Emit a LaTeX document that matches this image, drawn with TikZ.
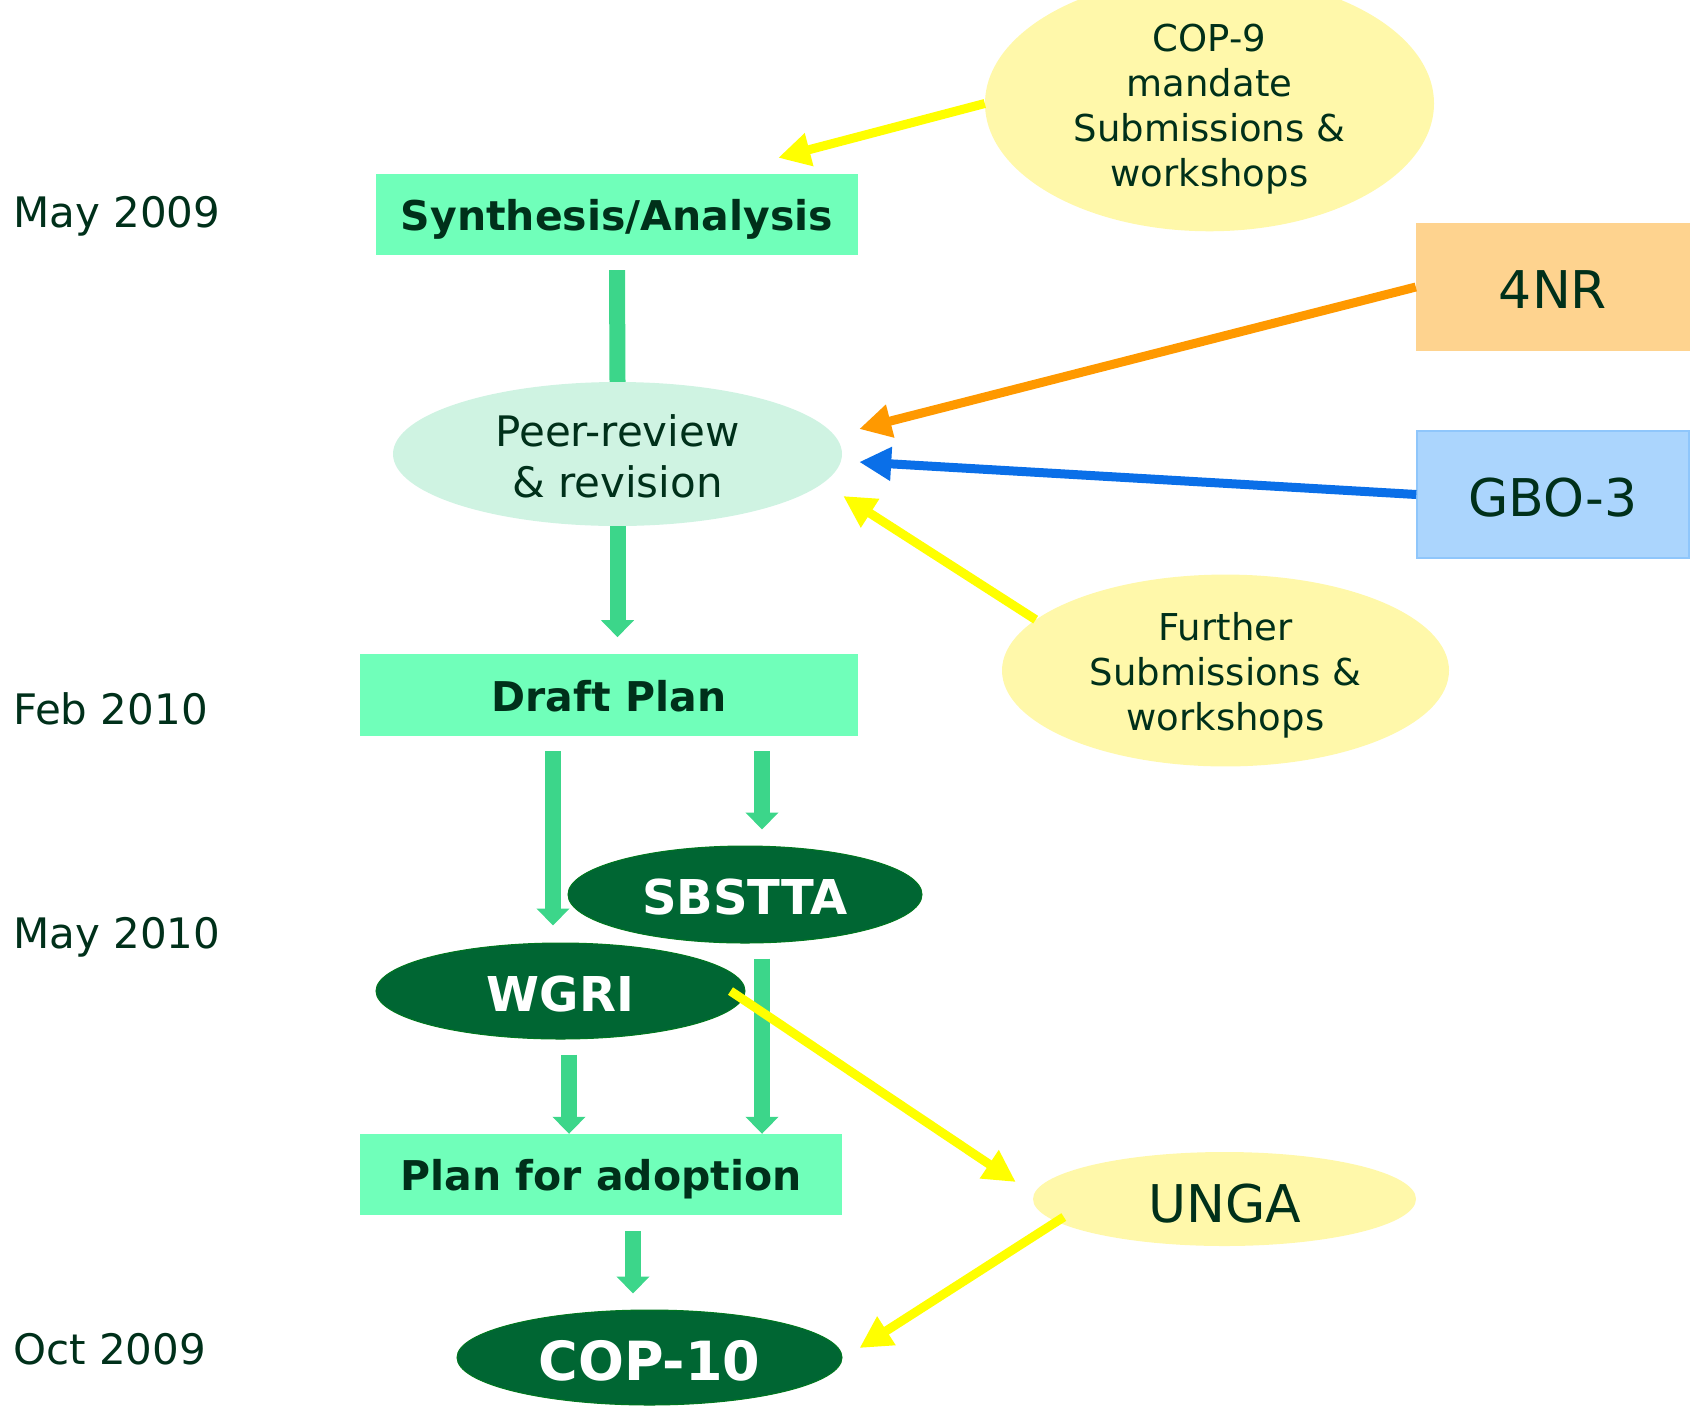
\documentclass[tikz,border=0pt]{standalone}
\usepackage{fontspec}
\setmainfont{DejaVu Sans}
\usetikzlibrary{shapes.geometric,arrows.meta,calc}
\definecolor{txt}{HTML}{00301A}
\definecolor{mint}{HTML}{70FFBA}
\definecolor{garrow}{HTML}{3CD68A}
\definecolor{peerfill}{HTML}{CFF3E2}
\definecolor{dkgreen}{HTML}{006633}
\definecolor{dkborder}{HTML}{00771F}
\definecolor{ltyellow}{HTML}{FFF8AA}
\definecolor{yarrow}{HTML}{FFFF00}
\definecolor{orfill}{HTML}{FED38F}
\definecolor{orarrow}{HTML}{FF9900}
\definecolor{blfill}{HTML}{ABD5FD}
\definecolor{blborder}{HTML}{8FC6FB}
\definecolor{blarrow}{HTML}{0A6FE8}
\tikzset{
  datelbl/.style={anchor=base west, text=txt, font=\fontsize{42}{50}\selectfont, inner sep=0},
  stagebox/.style={rectangle, fill=mint, text=txt, inner sep=0, text height=42pt, text depth=10pt, font=\bfseries\fontsize{41}{49}\selectfont},
  darkell/.style={ellipse, fill=dkgreen, draw=dkborder, line width=1pt, text=white, inner sep=0, text height=40pt, text depth=0pt, font=\bfseries\fontsize{48}{56}\selectfont},
  yellell/.style={ellipse, fill=ltyellow, text=txt, inner sep=0, align=center, font=\fontsize{37}{45}\selectfont},
  srcbox/.style={rectangle, text=txt, inner sep=0, text height=43pt, text depth=0pt, font=\fontsize{52}{60}\selectfont},
  garr/.style={draw=garrow, line width=16pt, -{Triangle[width=32pt,length=17pt]}},
  gline/.style={draw=garrow, line width=16pt},
  carr/.style={line width=9pt, -{Triangle[width=32pt,length=32pt]}}
}
\begin{document}
\begin{tikzpicture}[x=1pt,y=-1pt]
\useasboundingbox (0,0) rectangle (1694,1406);
% date labels
\node[datelbl] (d1) at (13,227) {May 2009};
\node[datelbl] (d2) at (13,724) {Feb 2010};
\node[datelbl] (d3) at (13,948) {May 2010};
\node[datelbl] (d4) at (13,1364) {Oct 2009};
% main column
\node[stagebox, minimum width=482pt, minimum height=81pt] (syn) at (617,214.5) {Synthesis/Analysis};
\node[ellipse, fill=peerfill, text=txt, inner sep=0, minimum width=449pt, minimum height=144pt, align=center, font=\fontsize{42}{51}\selectfont] (peer) at (617.5,454) {\rule{0pt}{36pt}Peer-review\\\& revision};
\node[stagebox, minimum width=498pt, minimum height=82pt] (draft) at (609,695) {Draft Plan};
\node[darkell, minimum width=354pt, minimum height=97pt] (sbstta) at (745,894.5) {SBSTTA};
\node[darkell, minimum width=369pt, minimum height=96pt] (wgri) at (560.5,991) {WGRI};
\node[stagebox, minimum width=482pt, minimum height=81pt] (plan) at (601,1174.5) {Plan for adoption};
\node[darkell, minimum width=385pt, minimum height=95pt, text height=46pt, font=\bfseries\fontsize{54}{60}\selectfont] (cop10) at (649.5,1357.5) {COP-10};
% inputs
\node[yellell, minimum width=449pt, minimum height=203pt] (cop9) at (1209.5,103.5) {\rule{0pt}{38pt}COP-9\\mandate\\Submissions \&\\workshops};
\node[srcbox, fill=orfill, minimum width=274pt, minimum height=128pt] (nr4) at (1553,287) {4NR};
\node[srcbox, fill=blfill, draw=blborder, line width=1.5pt, minimum width=272pt, minimum height=127pt] (gbo) at (1553,494.5) {GBO-3};
\node[yellell, minimum width=447pt, minimum height=191pt] (further) at (1225.5,670.5) {\rule{0pt}{38pt}Further\\Submissions \&\\workshops};
\node[yellell, minimum width=383pt, minimum height=94pt, text height=46pt, text depth=0pt, font=\fontsize{52}{60}\selectfont] (unga) at (1224.5,1199) {UNGA};
% green flow
\draw[gline] ($(syn.south)+(0,15)$) -- (peer.north);
\draw[garr] (peer.south) -- ($(peer.south)+(0,111)$);
\draw[garr] ($(draft.south)+(-56,15)$) -- ($(wgri.north)+(-7.5,-17)$);
\draw[garr] ($(draft.south)+(153,15)$) -- ($(sbstta.north)+(17,-16)$);
\draw[garr] ($(sbstta.south)+(17,15)$) -- ($(plan.north)+(161,0)$);
\draw[garr] ($(wgri.south)+(8.5,15)$) -- ($(plan.north)+(-32,0)$);
\draw[garr] ($(plan.south)+(32,16)$) -- ($(cop10.north)+(-16.5,-16)$);
% coloured inputs
\draw[carr, draw=yarrow, fill=yarrow] (cop9.west) -- ($(syn.north east)+(-80,-16)$);
\draw[carr, draw=orarrow, fill=orarrow] (nr4.west) -- ($(peer.east)+(17,-25)$);
\draw[carr, draw=blarrow, fill=blarrow] (gbo.west) -- ($(peer.east)+(17,8)$);
\draw[carr, draw=yarrow, fill=yarrow] (further.165) -- ($(peer.east)+(1,42)$);
\draw[carr, draw=yarrow, fill=yarrow] ($(wgri.east)+(-15,0)$) -- ($(unga.west)+(-17,-17)$);
\draw[carr, draw=yarrow, fill=yarrow] ($(unga.west)+(31,18)$) -- ($(cop10.east)+(17,-9.5)$);
\end{tikzpicture}
\end{document}
